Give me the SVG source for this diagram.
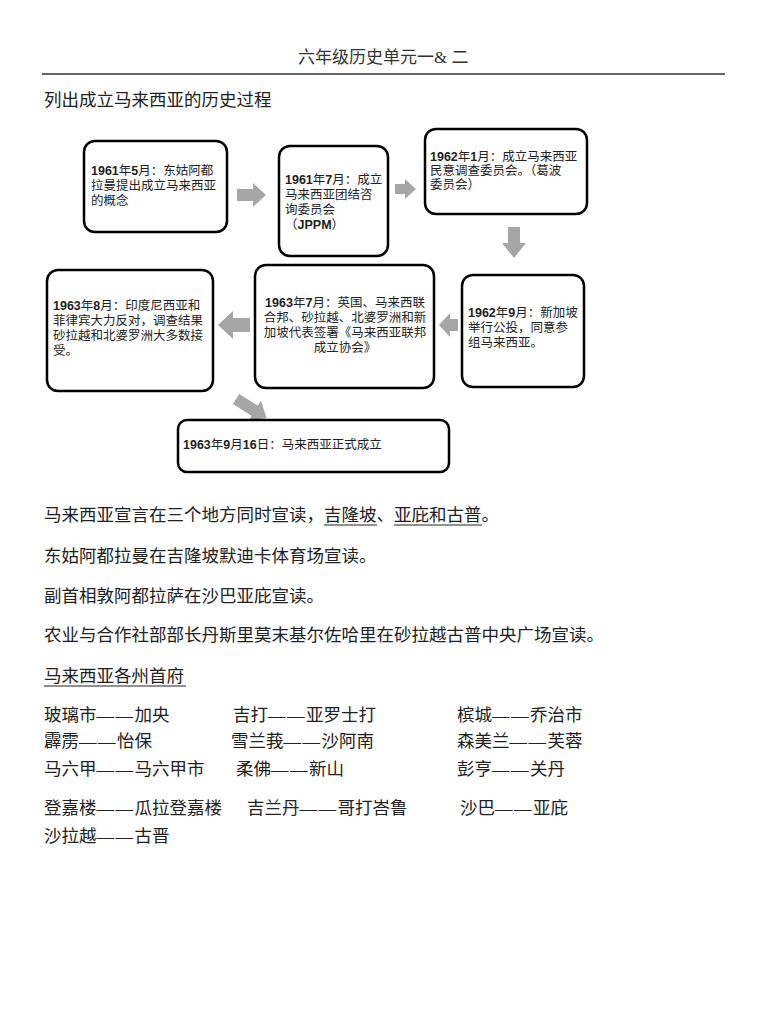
<svg xmlns="http://www.w3.org/2000/svg" width="768" height="1024" viewBox="0 0 768 1024">
<style>
.t{font-family:"Liberation Serif","Noto Sans CJK SC",serif;font-size:17.5px;fill:#222}
.c{font-family:"Noto Sans CJK SC",sans-serif;font-size:17.5px;fill:#222}
.d{font-family:"Liberation Serif",serif;letter-spacing:1.5px}
.h{font-family:"Liberation Serif","Noto Sans CJK SC",serif;font-size:17px;fill:#333}
.bx{fill:#fff;stroke:#000;stroke-width:2.5}
.bt{font-family:"Liberation Sans","Noto Sans CJK SC",sans-serif;font-size:12.5px;fill:#222}
.b{font-weight:bold}
.ar{fill:#a6a6a6}
.ul{stroke:#222;stroke-width:1.2}
</style>
<rect width="768" height="1024" fill="#fff"/>
<text class="h" x="298" y="63">六年级历史单元一&amp; 二</text>
<line x1="42" y1="74" x2="725" y2="74" stroke="#666" stroke-width="2"/>
<text class="t" x="44" y="106">列出成立马来西亚的历史过程</text>

<g id="connectors">
<path class="ar" d="M237,189 H253 V183 L266,195 L253,207 V201 H237 Z"/>
<path class="ar" d="M395,184 H405 V179 L416,189 L405,199 V194 H395 Z"/>
<path class="ar" d="M508,227 H520 V243 H526 L514,258 L502,243 H508 Z"/>
<path class="ar" d="M458,319 H450 V313 L439,325 L450,337 V331 H458 Z"/>
<path class="ar" d="M250,318 H233 V311 L218,325 L233,339 V332 H250 Z"/>
<path class="ar" d="M0,-6 H22 V-12 L36,0 L22,12 V6 H0 Z" transform="translate(236,399) rotate(32)"/>
</g>

<g id="n1">
<rect class="bx" x="84" y="141" width="143" height="91" rx="11"/>
<text class="bt" x="91" y="175"><tspan class="b">1961</tspan>年<tspan class="b">5</tspan>月：东姑阿都</text>
<text class="bt" x="91" y="190">拉曼提出成立马来西亚</text>
<text class="bt" x="91" y="205">的概念</text>
</g>
<g id="n2">
<rect class="bx" x="279" y="146" width="109" height="110" rx="11"/>
<text class="bt" x="285" y="184"><tspan class="b">1961</tspan>年<tspan class="b">7</tspan>月：成立</text>
<text class="bt" x="285" y="199">马来西亚团结咨</text>
<text class="bt" x="285" y="214">询委员会</text>
<text class="bt" x="285" y="229">（<tspan class="b">JPPM</tspan>）</text>
</g>
<g id="n3">
<rect class="bx" x="425" y="129" width="162" height="85" rx="11"/>
<text class="bt" x="430" y="161"><tspan class="b">1962</tspan>年<tspan class="b">1</tspan>月：成立马来西亚</text>
<text class="bt" x="430" y="175">民意调查委员会。（葛波</text>
<text class="bt" x="430" y="189">委员会）</text>
</g>
<g id="n4">
<rect class="bx" x="47" y="270" width="166" height="121" rx="11"/>
<text class="bt" x="53" y="310"><tspan class="b">1963</tspan>年<tspan class="b">8</tspan>月：印度尼西亚和</text>
<text class="bt" x="53" y="325">菲律宾大力反对，调查结果</text>
<text class="bt" x="53" y="340">砂拉越和北婆罗洲大多数接</text>
<text class="bt" x="53" y="355">受。</text>
</g>
<g id="n5">
<rect class="bx" x="255" y="265" width="179" height="123" rx="11"/>
<text class="bt" x="345" y="307" text-anchor="middle"><tspan class="b">1963</tspan>年<tspan class="b">7</tspan>月：英国、马来西联</text>
<text class="bt" x="345" y="322" text-anchor="middle">合邦、砂拉越、北婆罗洲和新</text>
<text class="bt" x="345" y="337" text-anchor="middle">加坡代表签署《马来西亚联邦</text>
<text class="bt" x="345" y="352" text-anchor="middle">成立协会》</text>
</g>
<g id="n6">
<rect class="bx" x="462" y="275" width="122" height="112" rx="11"/>
<text class="bt" x="468" y="317"><tspan class="b">1962</tspan>年<tspan class="b">9</tspan>月：新加坡</text>
<text class="bt" x="468" y="332">举行公投，同意参</text>
<text class="bt" x="468" y="347">组马来西亚。</text>
</g>
<g id="n7">
<rect class="bx" x="178" y="420" width="271" height="52" rx="9"/>
<text class="bt" x="183" y="449"><tspan class="b">1963</tspan>年<tspan class="b">9</tspan>月<tspan class="b">16</tspan>日：马来西亚正式成立</text>
</g>

<text class="t" x="44" y="521">马来西亚宣言在三个地方同时宣读，吉隆坡、亚庇和古普。</text>
<line class="ul" x1="324" y1="525" x2="377" y2="525"/>
<line class="ul" x1="394" y1="525" x2="482" y2="525"/>
<text class="t" x="44" y="562">东姑阿都拉曼在吉隆坡默迪卡体育场宣读。</text>
<text class="t" x="44" y="602">副首相敦阿都拉萨在沙巴亚庇宣读。</text>
<text class="t" x="44" y="641">农业与合作社部部长丹斯里莫末基尔佐哈里在砂拉越古普中央广场宣读。</text>
<text class="t" x="44" y="682">马来西亚各州首府</text>
<line class="ul" x1="44" y1="686" x2="186" y2="686"/>

<text class="c" x="44" y="721">玻璃市<tspan class="d">——</tspan>加央</text>
<text class="c" x="233" y="721">吉打<tspan class="d">——</tspan>亚罗士打</text>
<text class="c" x="457" y="721">槟城<tspan class="d">——</tspan>乔治市</text>
<text class="c" x="44" y="747">霹雳<tspan class="d">——</tspan>怡保</text>
<text class="c" x="231" y="747">雪兰莪<tspan class="d">——</tspan>沙阿南</text>
<text class="c" x="457" y="747">森美兰<tspan class="d">——</tspan>芙蓉</text>
<text class="c" x="44" y="775">马六甲<tspan class="d">——</tspan>马六甲市</text>
<text class="c" x="236" y="775">柔佛<tspan class="d">——</tspan>新山</text>
<text class="c" x="457" y="775">彭亨<tspan class="d">——</tspan>关丹</text>
<text class="c" x="44" y="814">登嘉楼<tspan class="d">——</tspan>瓜拉登嘉楼</text>
<text class="c" x="247" y="814">吉兰丹<tspan class="d">——</tspan>哥打峇鲁</text>
<text class="c" x="460" y="814">沙巴<tspan class="d">——</tspan>亚庇</text>
<text class="c" x="44" y="842">沙拉越<tspan class="d">——</tspan>古晋</text>
</svg>
